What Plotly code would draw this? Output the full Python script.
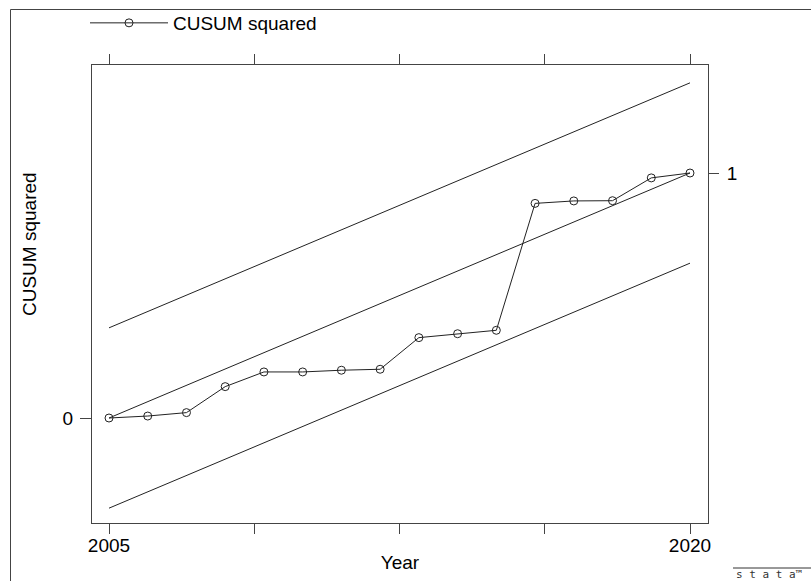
import plotly.graph_objects as go

# ---- data ----
years = [2005, 2006, 2007, 2008, 2009, 2010, 2011, 2012,
         2013, 2014, 2015, 2016, 2017, 2018, 2019, 2020]
cusum_sq = [0.0, 0.008, 0.022, 0.128, 0.188, 0.188, 0.195, 0.199,
            0.328, 0.344, 0.358, 0.876, 0.886, 0.887, 0.980, 1.0]

bound_years = [2005, 2020]
upper_bound = [0.368, 1.368]
expected = [0.0, 1.0]
lower_bound = [-0.368, 0.632]

x_tickvals = [2005, 2008.75, 2012.5, 2016.25, 2020]
x_ticktext = ["2005", "", "", "", "2020"]
y_left_ticks = [0]
y_right_ticks = [1]

FONT = "Liberation Sans, Arial, sans-serif"
INK = "#222222"
AXC = "#444444"

fig = go.Figure()

for vals, on_y2 in ((upper_bound, True), (expected, False), (lower_bound, False)):
    fig.add_trace(go.Scatter(
        x=bound_years, y=vals, mode="lines",
        line=dict(color=INK, width=1), showlegend=False, hoverinfo="skip",
        yaxis="y2" if on_y2 else "y"))

fig.add_trace(go.Scatter(
    x=years, y=cusum_sq, mode="lines+markers", name="CUSUM squared",
    line=dict(color=INK, width=1),
    marker=dict(symbol="circle-open", size=8, color=INK, line=dict(width=1, color=INK))))

W, H = 811, 581
L, R, T, B = 92, 708, 65, 523
yr = [-(B - 418) / 245.0, (418 - T) / 245.0]
xr = [2005 - 17 / 38.733, 2020 + 18 / 38.733]
pw, ph = R - L, B - T

fig.update_layout(
    width=W, height=H,
    margin=dict(l=L, r=W - R, t=T, b=H - B, pad=0, autoexpand=False),
    paper_bgcolor="white", plot_bgcolor="white",
    font=dict(family=FONT, size=19, color="black"),
    showlegend=True,
    legend=dict(x=-7 / pw, y=(B - 23) / ph, xanchor="left", yanchor="middle",
                bgcolor="rgba(0,0,0,0)", borderwidth=0, itemwidth=78,
                font=dict(size=19, family=FONT)),
    xaxis=dict(range=xr, tickvals=x_tickvals, ticktext=x_ticktext,
               ticks="outside", ticklen=10, tickwidth=1, tickcolor=AXC,
               showline=True, linecolor=AXC, linewidth=1, mirror="allticks",
               showgrid=False, zeroline=False, automargin=False,
               ticklabelstandoff=-5,
               title=dict(text="Year", standoff=0, font=dict(size=19)),
               tickfont=dict(size=19)),
    yaxis=dict(range=yr, tickvals=y_left_ticks, ticktext=["0"],
               ticks="outside", ticklen=11, tickwidth=1, tickcolor=AXC,
               showline=True, linecolor=AXC, linewidth=1, mirror=True,
               showgrid=False, zeroline=False, automargin=False,
               ticklabelstandoff=3,
               tickfont=dict(size=19)),
    yaxis2=dict(range=yr, overlaying="y", side="right", tickvals=y_right_ticks, ticktext=["1"],
                ticks="outside", ticklen=10, tickwidth=1, tickcolor=AXC,
                showline=False, showgrid=False, zeroline=False, automargin=False,
                ticklabelstandoff=4,
                tickfont=dict(size=19)),
)

# y-axis title (Stata places it off-centre, toward the top)
fig.add_annotation(text="CUSUM squared", xref="paper", yref="paper",
                   x=(30 - L) / pw, y=(B - 244) / ph, xanchor="center", yanchor="middle",
                   textangle=-90, showarrow=False, font=dict(family=FONT, size=19, color="black"))

# outer frame of the graph region (extends past the window edges)
fig.add_shape(type="rect", xref="paper", yref="paper",
              x0=(10.5 - L) / pw, x1=(W + 20 - L) / pw,
              y0=(B - (H + 20)) / ph, y1=(B - 9.5) / ph,
              line=dict(color="#444444", width=1), fillcolor="rgba(0,0,0,0)", layer="below")

# stata logo
fig.add_shape(type="line", xref="paper", yref="paper",
              x0=(733 - L) / pw, x1=(W + 5 - L) / pw,
              y0=(B - 568) / ph, y1=(B - 568) / ph,
              line=dict(color="#333333", width=1))
fig.add_annotation(text="s t a t a™", xref="paper", yref="paper",
                   x=(734 - L) / pw, y=(B - 574.5) / ph, xanchor="left", yanchor="middle",
                   showarrow=False, font=dict(family="DejaVu Sans Mono", size=11, color="#333333"))

fig.write_html("out.html",
               config={"displayModeBar": False},
               post_script="document.body.style.margin='0';document.body.style.overflow='hidden';")
